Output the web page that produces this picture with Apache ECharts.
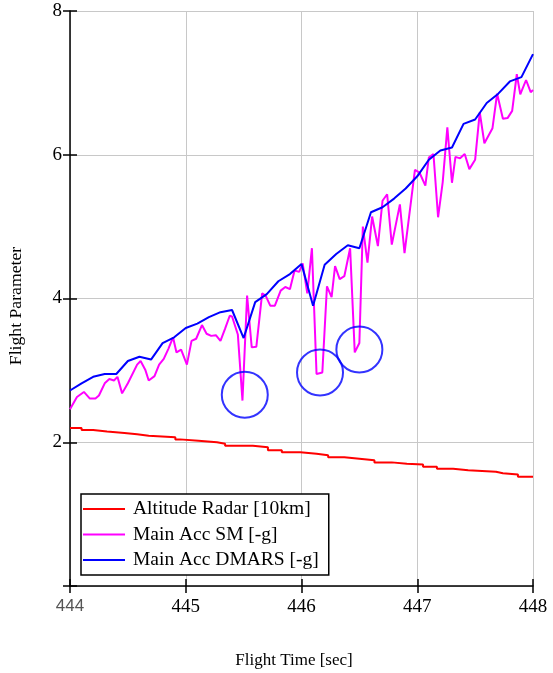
<!DOCTYPE html>
<html>
<head>
<meta charset="utf-8">
<script src="https://cdn.jsdelivr.net/npm/echarts@6/dist/echarts.min.js"></script>
<style>
  html, body { margin: 0; padding: 0; background: #fff; }
  #chart { width: 553px; height: 673px; }
</style>
</head>
<body>
<div id="chart"></div>
<script>
// Radar altitude (x10 km), stepped readings
const altTime = [444.00, 444.10, 444.20, 444.32, 444.47, 444.58, 444.68, 444.91, 444.95, 445.11,
  445.27, 445.34, 445.58, 445.71, 445.83, 445.99, 446.13, 446.23, 446.37, 446.50,
  446.63, 446.78, 446.91, 447.05, 447.17, 447.31, 447.44, 447.68, 447.74, 447.87, 448.00];
const altValue = [2.20, 2.17, 2.15, 2.13, 2.11, 2.09, 2.07, 2.04, 2.02, 2.00,
  1.98, 1.95, 1.93, 1.89, 1.86, 1.84, 1.82, 1.79, 1.77, 1.75,
  1.72, 1.70, 1.69, 1.66, 1.63, 1.61, 1.59, 1.57, 1.55, 1.52, 1.52];

// Main accelerometer, SM unit (-g)
const smTime = [444.00, 444.06, 444.12, 444.17, 444.22, 444.25, 444.30, 444.34, 444.38, 444.41,
  444.45, 444.50, 444.58, 444.61, 444.65, 444.68, 444.73, 444.77, 444.81, 444.85,
  444.89, 444.92, 444.96, 445.01, 445.05, 445.09, 445.14, 445.18, 445.22, 445.26,
  445.30, 445.34, 445.38, 445.40, 445.45, 445.49, 445.53, 445.57, 445.61, 445.66,
  445.69, 445.73, 445.77, 445.82, 445.86, 445.90, 445.94, 445.98, 446.01, 446.05,
  446.09, 446.13, 446.18, 446.22, 446.26, 446.29, 446.33, 446.37, 446.42, 446.46,
  446.50, 446.53, 446.57, 446.61, 446.66, 446.70, 446.74, 446.78, 446.85, 446.89,
  446.98, 447.02, 447.07, 447.10, 447.14, 447.18, 447.22, 447.26, 447.30, 447.33,
  447.37, 447.41, 447.45, 447.50, 447.54, 447.58, 447.65, 447.69, 447.74, 447.78,
  447.82, 447.86, 447.89, 447.94, 447.98, 448.00];
const smValue = [2.46, 2.63, 2.70, 2.61, 2.61, 2.65, 2.82, 2.88, 2.86, 2.91,
  2.68, 2.82, 3.08, 3.13, 3.01, 2.86, 2.92, 3.08, 3.16, 3.30,
  3.46, 3.25, 3.29, 3.08, 3.41, 3.44, 3.63, 3.51, 3.48, 3.49,
  3.41, 3.58, 3.76, 3.75, 3.50, 2.58, 4.04, 3.32, 3.33, 4.07,
  4.04, 3.90, 3.90, 4.11, 4.16, 4.13, 4.39, 4.37, 4.49, 4.07,
  4.70, 2.95, 2.97, 4.17, 4.02, 4.45, 4.27, 4.31, 4.70, 3.25,
  3.38, 5.00, 4.50, 5.14, 4.73, 5.36, 5.45, 4.75, 5.31, 4.63,
  5.79, 5.75, 5.57, 5.96, 6.01, 5.13, 5.62, 6.38, 5.61, 5.97,
  5.95, 6.01, 5.80, 5.93, 6.59, 6.16, 6.37, 6.85, 6.50, 6.51,
  6.61, 7.12, 6.84, 7.04, 6.87, 6.90];

// Main accelerometer, DMARS unit (-g)
const dmarsTime = [444.0, 444.1, 444.2, 444.3, 444.4, 444.5, 444.6, 444.7, 444.8, 444.9,
  445.0, 445.1, 445.2, 445.3, 445.4, 445.5, 445.6, 445.7, 445.8, 445.9,
  446.0, 446.1, 446.2, 446.3, 446.4, 446.5, 446.6, 446.7, 446.8, 446.9,
  447.0, 447.1, 447.2, 447.3, 447.4, 447.5, 447.6, 447.7, 447.8, 447.9, 448.0];
const dmarsValue = [2.72, 2.82, 2.91, 2.95, 2.95, 3.13, 3.19, 3.15, 3.38, 3.46,
  3.59, 3.65, 3.74, 3.81, 3.84, 3.45, 3.95, 4.06, 4.24, 4.34,
  4.48, 3.90, 4.47, 4.62, 4.74, 4.70, 5.20, 5.27, 5.39, 5.53,
  5.70, 5.93, 6.06, 6.10, 6.43, 6.49, 6.72, 6.85, 7.02, 7.08, 7.40];

// Flagged SM dropouts
const flagTime = [445.51, 446.16, 446.50];
const flagValue = [2.66, 2.97, 3.29];

const xTicks = [444, 445, 446, 447, 448];
const yTicks = [0, 2, 4, 6, 8];

const seriesNames = ['Altitude Radar [10km]', 'Main Acc SM [-g]', 'Main Acc DMARS [-g]'];

const zip = (a, b) => a.map((t, i) => [t, b[i]]);
const SERIF = '"Liberation Serif", "Times New Roman", serif';

const chart = echarts.init(document.getElementById('chart'), null, { renderer: 'canvas' });

const xBase = {
  type: 'value', gridIndex: 0,
  min: xTicks[0], max: xTicks[xTicks.length - 1], interval: 1
};
const yBase = {
  type: 'value', gridIndex: 0,
  min: yTicks[0], max: yTicks[yTicks.length - 1], interval: 2
};

chart.setOption({
  animation: false,
  backgroundColor: '#fff',
  grid: { left: 70, top: 11, right: 20, bottom: 87, containLabel: false },
  graphic: [
    {
      type: 'text', x: 294, y: 661,
      style: {
        text: 'Flight Time [sec]', font: '17px ' + SERIF, fill: '#000',
        align: 'center', verticalAlign: 'middle'
      }
    },
    {
      type: 'text', x: 16, y: 306, rotation: Math.PI / 2,
      style: {
        text: 'Flight Parameter', font: '17.7px ' + SERIF, fill: '#000',
        align: 'center', verticalAlign: 'middle'
      }
    }
  ],
  xAxis: [
    Object.assign({}, xBase, {
      position: 'bottom',
      axisLine: { show: true, onZero: false, lineStyle: { color: '#000', width: 1.5 } },
      axisTick: { show: true, inside: false, length: 7, lineStyle: { color: '#000', width: 1.5 } },
      axisLabel: {
        show: true, margin: 12, fontFamily: SERIF, fontSize: 19, color: '#000',
        formatter: v => (v === 444 ? '{s|444}' : String(v)),
        rich: { s: { fontFamily: '"Liberation Sans", sans-serif', fontSize: 17, color: '#555' } }
      },
      splitLine: { show: true, lineStyle: { color: '#c8c8c8', width: 1 } }
    }),
    Object.assign({}, xBase, {
      position: 'bottom',
      axisLine: { show: false },
      axisTick: { show: true, inside: true, length: 7, lineStyle: { color: '#000', width: 1.5 } },
      axisLabel: { show: false },
      splitLine: { show: false }
    })
  ],
  yAxis: [
    Object.assign({}, yBase, {
      position: 'left',
      axisLine: { show: true, onZero: false, lineStyle: { color: '#000', width: 1.5 } },
      axisTick: { show: true, inside: false, length: 7, lineStyle: { color: '#000', width: 1.5 } },
      axisLabel: {
        show: true, margin: 8, fontFamily: SERIF, fontSize: 19, color: '#000',
        formatter: v => (v === 0 ? '' : String(v))
      },
      splitLine: { show: true, lineStyle: { color: '#c8c8c8', width: 1 } }
    }),
    Object.assign({}, yBase, {
      position: 'left',
      axisLine: { show: false },
      axisTick: { show: true, inside: true, length: 7, lineStyle: { color: '#000', width: 1.5 } },
      axisLabel: { show: false },
      splitLine: { show: false }
    })
  ],
  legend: {
    orient: 'vertical',
    left: 81, top: 494,
    data: seriesNames.map(n => ({ name: n, icon: 'rect' })),
    backgroundColor: '#fff',
    borderColor: '#000',
    borderWidth: 1.5,
    borderRadius: 0,
    padding: [5, 10, 5, 2],
    itemWidth: 42,
    itemHeight: 2,
    itemGap: 5.5,
    selectedMode: false,
    textStyle: { fontFamily: SERIF, fontSize: 19.5, color: '#000', lineHeight: 20, padding: [0, 0, 0, 3] }
  },
  series: [
    {
      name: seriesNames[0], type: 'line', step: 'end',
      data: zip(altTime, altValue),
      symbol: 'none', lineStyle: { color: '#ff0000', width: 2 }, itemStyle: { color: '#ff0000' },
      z: 2
    },
    {
      name: seriesNames[1], type: 'line',
      data: zip(smTime, smValue),
      symbol: 'none', lineStyle: { color: '#ff00ff', width: 2 }, itemStyle: { color: '#ff00ff' },
      z: 3
    },
    {
      name: seriesNames[2], type: 'line',
      data: zip(dmarsTime, dmarsValue),
      symbol: 'none', lineStyle: { color: '#0000ff', width: 2 }, itemStyle: { color: '#0000ff' },
      z: 4
    },
    {
      name: 'flags', type: 'scatter',
      data: zip(flagTime, flagValue),
      symbol: 'circle', symbolSize: 46,
      itemStyle: { color: 'rgba(0,0,0,0)', borderColor: '#0000ff', borderWidth: 2 },
      emphasis: { disabled: true },
      silent: true,
      z: 5
    }
  ]
});
</script>
</body>
</html>
